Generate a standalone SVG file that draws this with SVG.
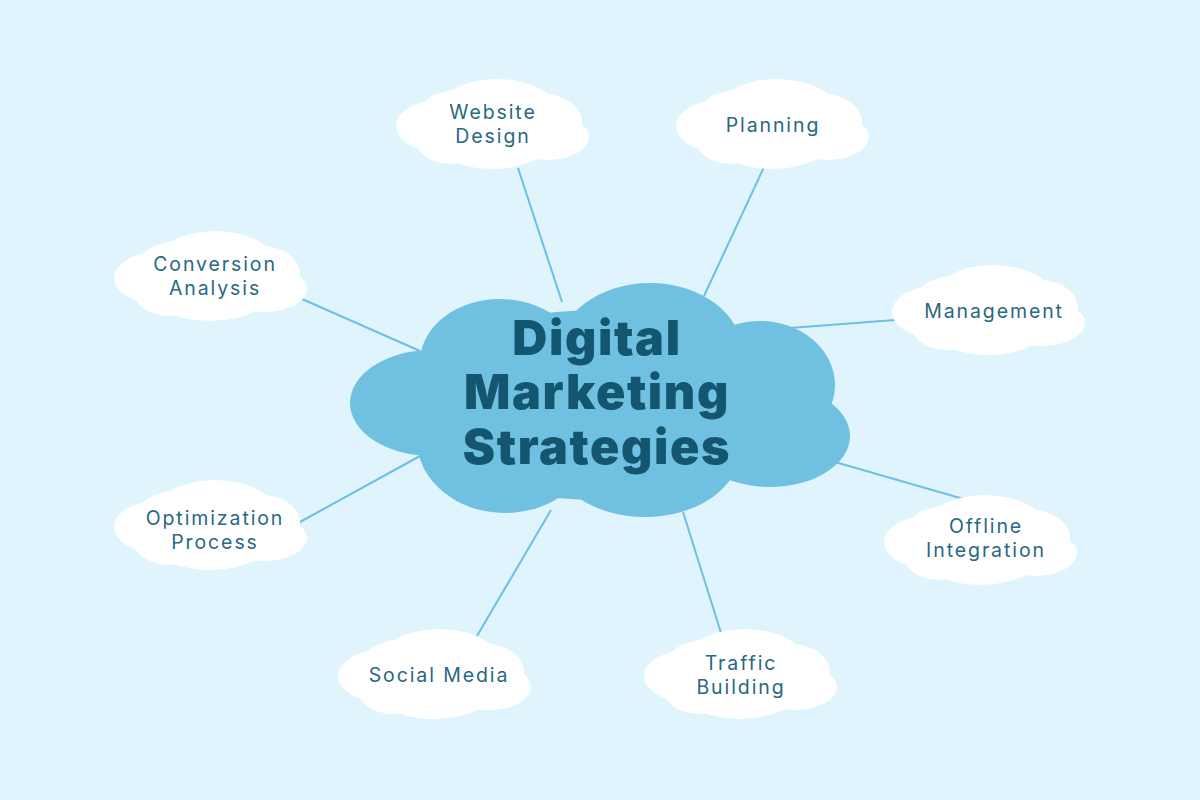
<svg xmlns="http://www.w3.org/2000/svg" width="1200" height="800" viewBox="0 0 1200 800">
  <defs>
    <style>
      .conn { stroke: #6cc0e3; stroke-width: 2; fill: none; }
      .small { fill: #ffffff; }
      .lbl { font-family: "Inter", "Noto Sans", sans-serif; font-size: 19.5px; fill: #2a6782; text-anchor: middle; letter-spacing: 1.9px; }
      .title { font-family: "Inter", "Noto Sans", sans-serif; font-weight: 900; font-size: 48.5px; fill: #14566f; text-anchor: middle; letter-spacing: 1.6px; }
    </style>
    <g id="cloud">
      <ellipse cx="-52" cy="2" rx="44" ry="26"/>
      <ellipse cx="-35" cy="-6" rx="40" ry="28"/>
      <ellipse cx="5" cy="-10" rx="62" ry="35"/>
      <ellipse cx="52" cy="-2" rx="38" ry="28"/>
      <ellipse cx="55" cy="13" rx="42" ry="23"/>
      <ellipse cx="0" cy="10" rx="65" ry="35"/>
      <ellipse cx="-42" cy="12" rx="36" ry="28"/>
      <ellipse cx="0" cy="2" rx="85" ry="30"/>
    </g>
  </defs>
  <rect width="1200" height="800" fill="#dff4fd"/>

  <g id="connectors">
    <line class="conn" x1="518" y1="168" x2="562" y2="302"/>
    <line class="conn" x1="765" y1="165" x2="704" y2="296"/>
    <line class="conn" x1="302" y1="299" x2="420" y2="351"/>
    <line class="conn" x1="895" y1="320" x2="790" y2="328"/>
    <line class="conn" x1="967" y1="500" x2="835" y2="462"/>
    <line class="conn" x1="300" y1="522" x2="420" y2="456"/>
    <line class="conn" x1="477" y1="636" x2="551" y2="510"/>
    <line class="conn" x1="722" y1="636" x2="683" y2="512"/>
  </g>

  <g id="center">
    <g fill="#70c1e1">
      <ellipse cx="432" cy="403" rx="82" ry="53"/>
      <ellipse cx="500" cy="362" rx="80" ry="63"/>
      <ellipse cx="650" cy="352" rx="92" ry="69"/>
      <ellipse cx="760" cy="385" rx="75" ry="64"/>
      <ellipse cx="770" cy="436" rx="80" ry="51"/>
      <ellipse cx="645" cy="450" rx="95" ry="67"/>
      <ellipse cx="505" cy="440" rx="88" ry="73"/>
      <ellipse cx="600" cy="405" rx="210" ry="95"/>
    </g>
    <text class="title"><tspan x="597" y="355">Digital</tspan><tspan x="597" y="409">Marketing</tspan><tspan x="597" y="464">Strategies</tspan></text>
  </g>

  <g id="website-design">
    <use href="#cloud" class="small" transform="translate(492,124)"/>
    <text class="lbl"><tspan x="493" y="119">Website</tspan><tspan x="493" y="143">Design</tspan></text>
  </g>
  <g id="planning">
    <use href="#cloud" class="small" transform="translate(772,124)"/>
    <text class="lbl" x="773" y="132">Planning</text>
  </g>
  <g id="conversion-analysis">
    <use href="#cloud" class="small" transform="translate(210,276)"/>
    <text class="lbl"><tspan x="215" y="271">Conversion</tspan><tspan x="215" y="295">Analysis</tspan></text>
  </g>
  <g id="management">
    <use href="#cloud" class="small" transform="translate(988,310)"/>
    <text class="lbl" x="994" y="318">Management</text>
  </g>
  <g id="offline-integration">
    <use href="#cloud" class="small" transform="translate(980,540)"/>
    <text class="lbl"><tspan x="986" y="533">Offline</tspan><tspan x="986" y="557">Integration</tspan></text>
  </g>
  <g id="optimization-process">
    <use href="#cloud" class="small" transform="translate(210,525)"/>
    <text class="lbl"><tspan x="215" y="525">Optimization</tspan><tspan x="215" y="549">Process</tspan></text>
  </g>
  <g id="social-media">
    <use href="#cloud" class="small" transform="translate(434,674)"/>
    <text class="lbl" x="439" y="682">Social Media</text>
  </g>
  <g id="traffic-building">
    <use href="#cloud" class="small" transform="translate(740,674)"/>
    <text class="lbl"><tspan x="741" y="670">Traffic</tspan><tspan x="741" y="694">Building</tspan></text>
  </g>
</svg>
